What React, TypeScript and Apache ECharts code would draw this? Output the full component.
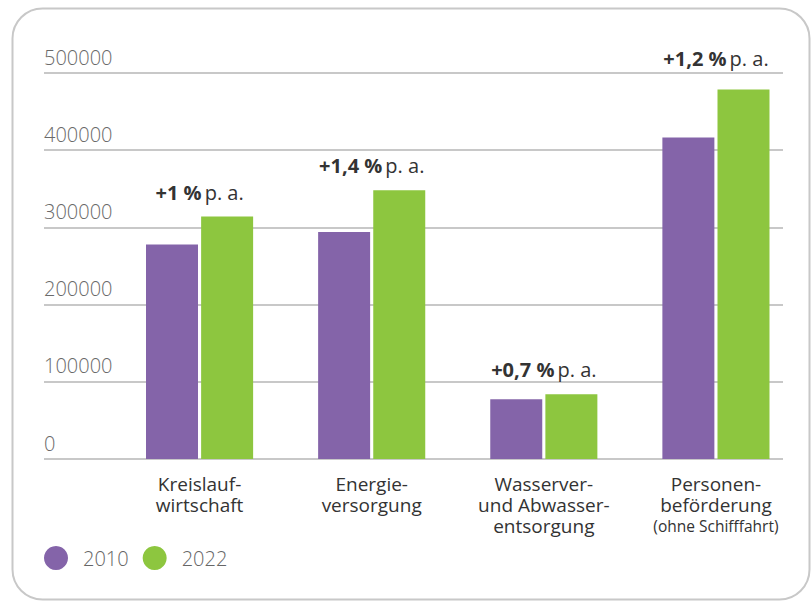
import React, { useEffect, useRef } from "react";
import * as echarts from "echarts";

const categories = [
  "Kreislauf-\nwirtschaft",
  "Energie-\nversorgung",
  "Wasserver-\nund Abwasser-\nentsorgung",
  "Personen-\nbeförderung\n{s|(ohne Schifffahrt)}",
];
const values2010 = [278000, 294000, 77500, 416500];
const values2022 = [314000, 348000, 84000, 478500];
const growthLabels = ["+1 %", "+1,4 %", "+0,7 %", "+1,2 %"];
const seriesNames = ["2010", "2022"];
const yTicks = { min: 0, max: 500000, interval: 100000 };

const PURPLE = "#8464a9";
const GREEN = "#8dc63f";
const FONT = "'Open Sans', 'Noto Sans', sans-serif";

export default function App() {
  const ref = useRef<HTMLDivElement>(null);
  useEffect(() => {
    if (!ref.current) return;
    const chart = echarts.init(ref.current, null, { renderer: "svg" });
    const labelDistances = [14, 15, 15, 21];
    chart.setOption({
      animation: false,
      textStyle: { fontFamily: FONT },
      graphic: [
        {
          type: "rect",
          shape: { x: 12.5, y: 8.5, width: 797, height: 591, r: 30 },
          style: { fill: "none", stroke: "#c8c8c8", lineWidth: 2 },
          z: -10,
        },
      ],
      legend: {
        data: seriesNames,
        left: 44,
        top: 546,
        padding: 0,
        itemWidth: 24,
        itemHeight: 24,
        icon: "circle",
        itemGap: 14,
        textStyle: {
          fontSize: 20,
          color: "#666",
          fontFamily: FONT,
          fontWeight: 300,
          padding: [0, 0, 0, 10],
        },
      },
      grid: [
        { left: 44, right: 29, top: 73, bottom: 142 },
        { left: 113.5, right: 10, top: 73, bottom: 142 },
      ],
      xAxis: [
        { gridIndex: 0, type: "category", data: [], show: false },
        {
          gridIndex: 1,
          type: "category",
          data: categories,
          axisLine: { show: false },
          axisTick: { show: false },
          axisLabel: {
            interval: 0,
            margin: 14,
            color: "#333",
            fontSize: 19,
            lineHeight: 21,
            fontFamily: FONT,
            rich: { s: { fontSize: 15.5, lineHeight: 21, color: "#333", fontFamily: FONT } },
          },
        },
      ],
      yAxis: [
        {
          gridIndex: 0,
          type: "value",
          min: yTicks.min,
          max: yTicks.max,
          interval: yTicks.interval,
          axisLine: { show: false },
          axisTick: { show: false },
          splitLine: { lineStyle: { color: "#c8c8c8", width: 2 } },
          axisLabel: {
            inside: true,
            margin: 0,
            align: "left",
            verticalAlign: "bottom",
            padding: [0, 0, 6, 0],
            color: "#6a6a6a",
            fontSize: 20,
            fontWeight: 300,
            fontFamily: FONT,
            formatter: (v: number) => String(v),
          },
        },
        {
          gridIndex: 1,
          type: "value",
          min: yTicks.min,
          max: yTicks.max,
          interval: yTicks.interval,
          show: false,
          splitLine: { show: false },
        },
      ],
      series: [
        {
          name: seriesNames[0],
          type: "bar",
          xAxisIndex: 1,
          yAxisIndex: 1,
          barWidth: 52,
          barGap: "6%",
          itemStyle: { color: PURPLE },
          data: values2010,
        },
        {
          name: seriesNames[1],
          type: "bar",
          xAxisIndex: 1,
          yAxisIndex: 1,
          barWidth: 52,
          barGap: "6%",
          itemStyle: { color: GREEN },
          data: values2022.map((v, i) => ({
            value: v,
            label: { distance: labelDistances[i] },
          })),
          label: {
            show: true,
            position: "top",
            offset: [-27.5, 0],
            formatter: (p: any) => `{b|${growthLabels[p.dataIndex]}} {r|p. a.}`,
            rich: {
              b: { fontSize: 20, fontWeight: "bold", color: "#333", fontFamily: FONT },
              r: { fontSize: 20, color: "#333", fontFamily: FONT },
            },
          },
        },
      ],
    });
    return () => chart.dispose();
  }, []);
  return (
    <div
      ref={ref}
      style={{ position: "absolute", left: 0, top: 0, width: 812, height: 601 }}
    />
  );
}
